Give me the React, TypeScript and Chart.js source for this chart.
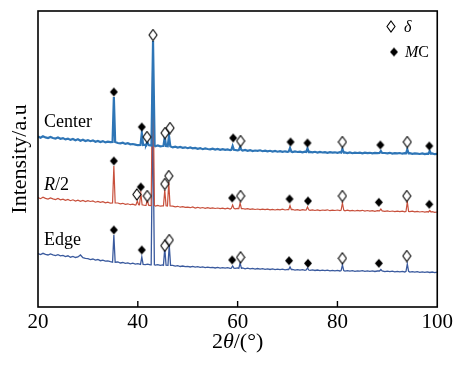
import { useEffect, useRef } from 'react';
import { Chart, registerables } from 'chart.js';

Chart.register(...registerables);

// 2θ grid: 20 .. 100 in 0.5° steps
const ANGLE_START = 20;
const ANGLE_STEP = 0.5;
const xTicks = [20, 40, 60, 80, 100];

// Baselines (arbitrary intensity units, offset traces)
const centerBase = [
  170.5, 169.2, 170.8, 169.6, 168.9, 170.1, 169.0, 168.4, 169.5, 168.2,
  168.9, 167.6, 168.4, 167.1, 168.0, 166.8, 167.7, 166.3, 167.2, 166.0,
  166.9, 165.8, 166.6, 165.2, 166.1, 165.0, 165.9, 164.6, 165.3, 164.8,
  164.5, 165.2, 164.0, 163.6, 164.3, 163.1, 163.8, 162.7, 163.0, 162.4,
  161.8, 162.6, 161.9, 162.3, 162.0, 161.6, 161.2, 160.8, 161.5, 160.6,
  161.0, 160.4, 160.9, 160.1, 159.6, 160.3, 159.4, 160.0, 159.2, 159.7,
  158.8, 159.5, 158.6, 159.1, 158.2, 158.9, 157.8, 158.5, 158.0, 157.6,
  158.3, 157.5, 158.0, 157.2, 157.9, 157.1, 157.6, 156.8, 157.4, 157.0,
  156.6, 157.3, 156.4, 157.0, 156.2, 156.9, 155.9, 156.5, 156.1, 156.7,
  155.8, 156.4, 155.6, 156.2, 155.4, 156.0, 155.3, 155.9, 155.1, 155.7,
  155.2, 155.8, 154.9, 155.6, 155.0, 155.4, 154.7, 155.3, 154.8, 155.1,
  154.6, 155.2, 154.4, 155.0, 154.5, 154.9, 154.2, 154.8, 154.3, 154.7,
  154.1, 154.8, 154.0, 154.6, 153.9, 154.5, 153.8, 154.4, 154.0, 154.3,
  153.7, 154.4, 153.9, 154.2, 153.6, 154.1, 153.8, 154.3, 153.5, 154.0,
  153.7, 154.2, 153.4, 153.9, 153.6, 154.0, 153.3, 153.8, 153.5, 153.9,
  153.2, 153.7, 153.4, 153.0, 153.6, 152.9, 153.4, 153.1, 153.5, 152.8,
  153.2,
];

const r2Base = [
  109.4, 108.3, 109.8, 108.6, 107.9, 109.0, 108.1, 107.4, 108.5, 107.2,
  107.8, 106.6, 107.5, 106.3, 107.2, 106.0, 106.9, 105.7, 106.5, 105.4,
  106.3, 105.5, 106.1, 104.8, 105.6, 104.6, 105.3, 104.1, 104.9, 103.8,
  104.2, 103.5, 104.0, 103.1, 103.7, 102.6, 103.2, 102.3, 102.9, 102.0,
  102.4, 101.6, 102.2, 101.5, 102.0, 101.3, 101.8, 101.0, 101.6, 100.8,
  101.2, 100.6, 101.4, 100.3, 100.9, 100.1, 100.7, 99.8, 100.4, 99.6,
  99.9, 99.3, 100.1, 99.0, 99.7, 98.9, 99.5, 98.7, 99.4, 98.6,
  99.2, 98.5, 99.0, 98.3, 98.9, 98.2, 98.8, 98.0, 98.7, 98.1,
  98.6, 97.9, 98.5, 97.8, 98.3, 97.6, 98.2, 97.5, 98.0, 97.4,
  97.9, 97.3, 97.8, 97.1, 97.7, 97.0, 97.6, 97.2, 97.8, 97.0,
  97.5, 96.9, 97.6, 96.8, 97.4, 96.7, 97.3, 96.9, 97.5, 96.6,
  97.2, 96.5, 97.1, 96.4, 97.0, 96.6, 97.2, 96.3, 96.9, 96.5,
  97.0, 96.3, 96.9, 96.2, 96.8, 96.1, 96.7, 96.0, 96.6, 96.2,
  96.7, 95.9, 96.5, 95.8, 96.4, 95.7, 96.3, 95.9, 96.2, 95.6,
  96.1, 95.5, 96.0, 95.4, 95.9, 95.3, 95.8, 95.2, 95.7, 95.4,
  95.8, 95.1, 95.6, 95.0, 95.5, 94.9, 95.4, 94.8, 95.3, 94.7,
  95.0,
];

const edgeBase = [
  53.4, 52.5, 53.7, 52.6, 52.0, 53.1, 52.2, 51.4, 52.3, 51.1,
  51.6, 50.4, 51.2, 49.8, 50.6, 49.5, 50.1, 52.0, 49.3, 48.6,
  48.3, 47.4, 48.0, 46.9, 47.5, 46.3, 46.9, 45.8, 46.2, 45.3,
  45.1, 44.4, 45.0, 44.0, 44.5, 43.6, 44.1, 43.2, 43.8, 42.9,
  43.3, 42.5, 43.0, 42.3, 42.8, 42.1, 42.6, 41.9, 42.4, 41.7,
  42.1, 41.4, 41.9, 41.0, 41.6, 40.8, 41.3, 40.5, 41.0, 40.3,
  40.7, 40.0, 40.6, 39.8, 40.3, 39.6, 40.1, 39.4, 39.9, 39.3,
  39.7, 39.0, 39.6, 38.9, 39.4, 38.8, 39.3, 38.7, 39.2, 38.6,
  39.1, 38.4, 39.0, 38.2, 38.8, 38.1, 38.6, 37.9, 38.5, 37.8,
  38.4, 37.7, 38.2, 37.5, 38.1, 37.4, 37.9, 37.3, 37.8, 37.2,
  37.7, 37.0, 37.6, 36.9, 37.4, 36.8, 37.3, 36.7, 37.2, 36.6,
  37.1, 36.5, 37.0, 36.4, 36.9, 36.3, 36.8, 36.2, 36.7, 36.1,
  36.6, 36.0, 36.5, 35.9, 36.4, 35.8, 36.3, 35.7, 36.2, 35.9,
  36.4, 35.7, 36.2, 35.6, 36.1, 35.5, 36.0, 35.4, 35.9, 35.3,
  35.9, 35.3, 35.8, 35.2, 35.7, 35.1, 35.6, 35.0, 35.5, 34.9,
  35.4, 34.8, 35.3, 34.7, 35.2, 34.6, 35.1, 34.5, 35.0, 34.4,
  34.9,
];

// Peaks: [2θ, top intensity, foot intensity]
const centerPeaks = [
  [35.2, 210, 165], [40.8, 174, 162], [41.9, 165, 162], [43.05, 266, 161.5],
  [45.4, 170, 161], [46.25, 171, 160.8], [59.0, 161, 157.2], [60.5, 160, 157],
  [70.5, 159, 155.4], [74.0, 158.5, 155], [81.0, 158, 154.4], [88.7, 156, 154],
  [94.0, 157.5, 153.7], [98.5, 156, 153.2],
];
const r2Peaks = [
  [35.2, 141, 104], [39.9, 106, 102.3], [40.6, 114, 102.2], [41.9, 107, 101.8],
  [43.0, 257, 101.5], [45.4, 117, 101.2], [46.2, 125, 101], [59.0, 102, 98.6],
  [60.5, 104, 98.4], [70.5, 101.5, 97.4], [74.0, 100, 97.1], [81.0, 104, 96.9],
  [88.7, 98, 96.1], [94.0, 105, 95.6], [98.5, 96.5, 95.0],
];
const edgePeaks = [
  [35.2, 72, 44.8], [40.8, 50, 42.6], [43.0, 197, 42.2], [45.4, 59, 41.8],
  [46.3, 62, 41.6], [59.0, 41, 38.9], [60.5, 44, 38.7], [70.5, 40, 37.4],
  [74.0, 39, 37.0], [81.0, 42, 36.4], [88.7, 37.5, 36.0], [94.0, 43, 35.6],
];

// Phase markers: [2θ, intensity]
const deltaMarks = [
  [41.85, 170], [43.05, 272], [45.45, 174], [46.45, 179], [60.6, 166], [81.0, 165], [94.0, 165],
  [39.8, 112.5], [41.9, 111], [45.4, 123], [46.2, 131], [60.6, 111], [81.0, 111], [93.9, 111],
  [45.4, 61.3], [46.3, 67], [60.6, 49.7], [81.0, 48.7], [93.9, 51],
];
const mcMarks = [
  [35.2, 215], [40.8, 180], [59.1, 169], [70.6, 165], [74.0, 164], [88.6, 162], [98.4, 161],
  [35.2, 146], [40.6, 120], [58.9, 109], [70.4, 108], [74.1, 106], [88.3, 104.7], [98.4, 102.7],
  [35.2, 77], [40.8, 57], [58.9, 47], [70.3, 46.3], [74.1, 43.7], [88.3, 43.7],
];

const SERIF = '"Liberation Serif", "Times New Roman", serif';

function buildSeries(base: number[], peaks: number[][]) {
  const pts: { x: number; y: number }[] = [];
  base.forEach((y, i) => {
    const x = ANGLE_START + i * ANGLE_STEP;
    if (peaks.some((p) => Math.abs(p[0] - x) < 0.35)) return;
    pts.push({ x, y });
  });
  peaks.forEach(([pos, top, foot]) => {
    const hw = top - foot > 50 ? 0.32 : 0.26;
    pts.push({ x: pos - hw, y: foot }, { x: pos, y: top }, { x: pos + hw, y: foot });
  });
  pts.sort((a, b) => a.x - b.x);
  return pts;
}

function diamondCanvas(w: number, h: number, filled: boolean) {
  const c = document.createElement('canvas');
  c.width = w + 2;
  c.height = h + 2;
  const g = c.getContext('2d')!;
  const cx = c.width / 2;
  const cy = c.height / 2;
  g.beginPath();
  g.moveTo(cx, cy - h / 2);
  g.lineTo(cx + w / 2, cy);
  g.lineTo(cx, cy + h / 2);
  g.lineTo(cx - w / 2, cy);
  g.closePath();
  if (filled) {
    g.fillStyle = '#000';
    g.fill();
  } else {
    g.fillStyle = '#fff';
    g.fill();
    g.strokeStyle = '#000';
    g.lineWidth = 1.1;
    g.stroke();
  }
  return c;
}

export default function App() {
  const ref = useRef<HTMLCanvasElement>(null);

  useEffect(() => {
    document.body.style.margin = '0';
    const canvas = ref.current!;
    const hollow = diamondCanvas(8, 11, false);
    const solid = diamondCanvas(8, 9, true);

    const decor = {
      id: 'decor',
      afterDraw(chart: any) {
        const { ctx, chartArea: a, scales } = chart;
        const xs = scales.x;
        ctx.save();
        // frame
        ctx.strokeStyle = '#000';
        ctx.lineWidth = 1.6;
        ctx.strokeRect(a.left, a.top, a.right - a.left, a.bottom - a.top);
        // inward ticks
        ctx.lineWidth = 1.4;
        xTicks.slice(1, -1).forEach((v) => {
          const px = xs.getPixelForValue(v);
          ctx.beginPath();
          ctx.moveTo(px, a.bottom);
          ctx.lineTo(px, a.bottom - 6);
          ctx.stroke();
        });
        ctx.fillStyle = '#000';
        ctx.textBaseline = 'alphabetic';
        ctx.textAlign = 'left';
        // trace labels
        ctx.font = `18px ${SERIF}`;
        ctx.fillText('Center', a.left + 6, 127);
        ctx.font = `italic 18px ${SERIF}`;
        ctx.fillText('R', a.left + 6, 190);
        const rw = ctx.measureText('R').width;
        ctx.font = `18px ${SERIF}`;
        ctx.fillText('/2', a.left + 6 + rw, 190);
        ctx.fillText('Edge', a.left + 6, 245);
        // legend
        ctx.drawImage(hollow, 391 - hollow.width / 2, 26.5 - hollow.height / 2);
        ctx.drawImage(solid, 394 - solid.width / 2, 52 - solid.height / 2);
        ctx.font = `italic 16px ${SERIF}`;
        ctx.fillText('δ', 404, 32);
        ctx.fillText('M', 405, 57);
        const mw = ctx.measureText('M').width;
        ctx.font = `16px ${SERIF}`;
        ctx.fillText('C', 405 + mw, 57);
        // x title
        const parts: [string, boolean][] = [['2', false], ['θ', true], ['/(°)', false]];
        let total = 0;
        const widths = parts.map(([t, it]) => {
          ctx.font = `${it ? 'italic ' : ''}22px ${SERIF}`;
          const w = ctx.measureText(t).width;
          total += w;
          return w;
        });
        let tx = (a.left + a.right) / 2 - total / 2;
        parts.forEach(([t, it], i) => {
          ctx.font = `${it ? 'italic ' : ''}22px ${SERIF}`;
          ctx.fillText(t, tx, 348);
          tx += widths[i];
        });
        // y title
        ctx.translate(20, (a.top + a.bottom) / 2);
        ctx.rotate(-Math.PI / 2);
        ctx.font = `22px ${SERIF}`;
        ctx.textAlign = 'center';
        ctx.textBaseline = 'middle';
        ctx.fillText('Intensity/a.u', 0, 0);
        ctx.restore();
      },
    };

    const chart = new Chart(canvas, {
      type: 'scatter',
      data: {
        datasets: [
          {
            data: deltaMarks.map(([x, y]) => ({ x, y })),
            pointStyle: hollow as any,
            pointRadius: 5,
            showLine: false,
          },
          {
            data: mcMarks.map(([x, y]) => ({ x, y })),
            pointStyle: solid as any,
            pointRadius: 5,
            showLine: false,
          },
          {
            data: buildSeries(centerBase, centerPeaks),
            showLine: true,
            borderColor: '#2e75b6',
            borderWidth: 2.2,
            pointRadius: 0,
            tension: 0,
          },
          {
            data: buildSeries(r2Base, r2Peaks),
            showLine: true,
            borderColor: '#c8503c',
            borderWidth: 1.2,
            pointRadius: 0,
            tension: 0,
          },
          {
            data: buildSeries(edgeBase, edgePeaks),
            showLine: true,
            borderColor: '#3a5a9e',
            borderWidth: 1.3,
            pointRadius: 0,
            tension: 0,
          },
        ],
      },
      options: {
        responsive: false,
        animation: false,
        devicePixelRatio: 1,
        events: [],
        layout: { padding: { left: 38, right: 17, top: 11, bottom: 0 } },
        plugins: { legend: { display: false }, tooltip: { enabled: false } },
        scales: {
          x: {
            type: 'linear',
            min: 20,
            max: 100,
            afterFit: (s: any) => {
              s.height = 58;
            },
            afterBuildTicks: (s: any) => {
              s.ticks = xTicks.map((v) => ({ value: v }));
            },
            ticks: {
              color: '#000',
              font: { family: SERIF, size: 21 },
              padding: 3,
              maxRotation: 0,
            },
            grid: { display: false, drawTicks: false },
            border: { display: false },
          },
          y: {
            display: false,
            min: 0,
            max: 296,
          },
        },
      },
      plugins: [decor],
    });
    return () => chart.destroy();
  }, []);

  return <canvas ref={ref} width={456} height={365} style={{ display: 'block' }} />;
}
